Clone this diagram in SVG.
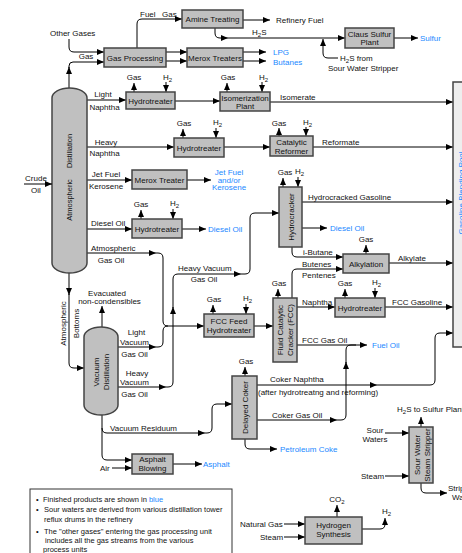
<svg xmlns="http://www.w3.org/2000/svg" width="462" height="553" viewBox="0 0 462 553">
<defs>
<marker id="ah" viewBox="0 0 7 6" refX="7" refY="3" markerWidth="7" markerHeight="6" markerUnits="userSpaceOnUse" orient="auto"><path d="M0,0 L7,3 L0,6 z" fill="#000"/></marker>
<style>
text{font-family:"Liberation Sans",Arial,sans-serif;font-size:8px;fill:#111}
.c{text-anchor:middle}
.b{fill:#2288ff}
.box{fill:#c0c0c0;stroke:#444;stroke-width:1.5}
.col{fill:#c0c0c0;stroke:#444;stroke-width:1.5}
.ln{fill:none;stroke:#000;stroke-width:1;marker-end:url(#ah)}
.l0{fill:none;stroke:#000;stroke-width:1}
.lg{font-size:7.5px}
</style>
</defs>
<rect width="462" height="553" fill="#fff"/>

<g id="connectors">
<path class="ln" d="M69,39 V47 Q69,52 74,52 H104"/>
<path class="ln" d="M69,88 V67"/>
<path class="ln" d="M69,68 V66 Q69,62 73,62 H104"/>
<path class="ln" d="M137,48 V24 Q137,19 142,19 H182"/>
<path class="ln" d="M166,52 H187"/>
<path class="ln" d="M166,61 H187"/>
<path class="ln" d="M243,52 H266"/>
<path class="ln" d="M243,61 H266"/>
<path class="ln" d="M243,20 H270"/>
<path class="ln" d="M215,28 V33 Q215,38 220,38 H228"/>
<path class="ln" d="M228,38 H345"/>
<path class="ln" d="M394,38 H418"/>
<path class="ln" d="M338,58 H328 Q323,58 323,53 V39"/>
<path class="ln" d="M87,100 H126"/>
<path class="ln" d="M175,101 H220"/>
<path class="ln" d="M270,102 H453"/>
<path class="ln" d="M87,147 H174"/>
<path class="ln" d="M224,147 H270"/>
<path class="ln" d="M313,147 H453"/>
<path class="ln" d="M87,180 H132"/>
<path class="ln" d="M187,180 H211"/>
<path class="ln" d="M87,229 H132"/>
<path class="ln" d="M182,229 H206"/>
<path class="ln" d="M87,253 H156"/>
<path class="ln" d="M156,253 H158 Q163,253 163,258 V321 Q163,326 168,326 H204"/>
<path class="ln" d="M118,347 H156"/>
<path class="l0" d="M156,347 H158 Q163,347 163,342 V331 Q163,326 168,326"/>
<path class="ln" d="M118,387 H166"/>
<path class="ln" d="M166,387 H168 Q173,387 173,382 V307"/>
<path class="ln" d="M173,308 V279 Q173,274 178,274 H241"/>
<path class="ln" d="M241,274 H245 Q250,274 250,269 V218 Q250,213 255,213 H279"/>
<path class="ln" d="M254,326 H273"/>
<path class="ln" d="M302,202 H453"/>
<path class="ln" d="M302,228 H327"/>
<path class="ln" d="M292,247 V252 Q292,257 297,257 H343"/>
<path class="ln" d="M292,298 V274 Q292,269 297,269 H343"/>
<path class="ln" d="M389,263 H453"/>
<path class="ln" d="M297,307 H335"/>
<path class="ln" d="M385,307 H453"/>
<path class="ln" d="M297,345 H367"/>
<path class="ln" d="M257,420 H337"/>
<path class="ln" d="M337,420 H341 Q346,420 346,415 V362"/>
<path class="l0" d="M346,363 V350 Q346,345 351,345 H356"/>
<path class="ln" d="M257,385 H377"/>
<path class="ln" d="M377,385 H430 Q435,385 435,380 V338 Q435,333 440,333 H453"/>
<path class="ln" d="M245,439 V444 Q245,449 250,449 H277"/>
<path class="ln" d="M69,273 V295"/>
<path class="ln" d="M69,294 V363 Q69,368 74,368 H84"/>
<path class="ln" d="M102,327 V306"/>
<path class="ln" d="M102,415 V428 Q102,433 107,433 H205"/>
<path class="ln" d="M205,433 H207 Q212,433 212,428 V409 Q212,404 217,404 H232"/>
<path class="ln" d="M102,428 V455 Q102,460 107,460 H132"/>
<path class="ln" d="M112,468 H132"/>
<path class="ln" d="M173,464 H202"/>
<path class="ln" d="M421,427 V417"/>
<path class="ln" d="M385,433 H409"/>
<path class="ln" d="M385,476 H409"/>
<path class="ln" d="M421,483 V488 Q421,493 426,493 H447"/>
<path class="ln" d="M284,524 H305"/>
<path class="ln" d="M284,537 H305"/>
<path class="ln" d="M337,517 V505"/>
<path class="ln" d="M362,529 H380 Q385,529 385,524 V518"/>
<path class="ln" d="M134,92 V83"/><path class="ln" d="M166,82 V92"/>
<path class="ln" d="M227,92 V83"/><path class="ln" d="M262,82 V92"/>
<path class="ln" d="M183,138 V129"/><path class="ln" d="M216,128 V138"/>
<path class="ln" d="M279,136 V128"/><path class="ln" d="M306,127 V136"/>
<path class="ln" d="M141,219 V210"/><path class="ln" d="M173,209 V219"/>
<path class="ln" d="M283,187 V178"/><path class="ln" d="M298,177 V187"/>
<path class="ln" d="M366,254 V245"/>
<path class="ln" d="M213,314 V305"/><path class="ln" d="M246,304 V314"/>
<path class="ln" d="M278,298 V289"/>
<path class="ln" d="M345,298 V289"/><path class="ln" d="M375,288 V298"/>
<path class="ln" d="M245,376 V367"/>
</g>

<g id="labels">
<text x="50" y="36">Other Gases</text>
<text x="86" y="59" class="c">Gas</text>
<text x="140" y="17">Fuel</text><text x="162" y="17">Gas</text>
<text x="276" y="23">Refinery Fuel</text>
<text x="252" y="35">H<tspan font-size="6" dy="2">2</tspan><tspan dy="-2">S</tspan></text>
<text x="420" y="41" class="b">Sulfur</text>
<text x="340" y="61">H<tspan font-size="6" dy="2">2</tspan><tspan dy="-2">S from</tspan></text>
<text x="328" y="71">Sour Water Stripper</text>
<text x="273" y="55" class="b">LPG</text>
<text x="273" y="65" class="b">Butanes</text>
<text x="103" y="97" class="c">Light</text>
<text x="104.5" y="110" class="c">Naphtha</text>
<text x="280" y="100">Isomerate</text>
<text x="106" y="145" class="c">Heavy</text>
<text x="104.5" y="156" class="c">Naphtha</text>
<text x="322" y="145">Reformate</text>
<text x="106" y="177" class="c">Jet Fuel</text>
<text x="106" y="189" class="c">Kerosene</text>
<text x="229" y="175" class="c b">Jet Fuel</text>
<text x="229" y="182.5" class="c b">and/or</text>
<text x="229" y="190" class="c b">Kerosene</text>
<text x="91" y="226">Diesel Oil</text>
<text x="208" y="232" class="b">Diesel Oil</text>
<text x="91" y="251">Atmospheric</text>
<text x="111" y="263" class="c">Gas Oil</text>
<text x="308" y="200">Hydrocracked Gasoline</text>
<text x="330" y="231" class="b">Diesel Oil</text>
<text x="303" y="255">i-Butane</text>
<text x="398" y="261">Alkylate</text>
<text x="302" y="266.5">Butenes</text>
<text x="302" y="277.5">Pentenes</text>
<text x="178" y="271">Heavy Vacuum</text>
<text x="204" y="282" class="c">Gas Oil</text>
<text x="107" y="296" class="c">Evacuated</text>
<text x="109.5" y="303.5" class="c">non-condensibles</text>
<text transform="translate(66,323.5) rotate(-90)" class="c">Atmospheric</text>
<text transform="translate(79,323.5) rotate(-90)" class="c">Bottoms</text>
<text x="302" y="305">Naphtha</text>
<text x="392" y="305">FCC Gasoline</text>
<text x="302" y="343">FCC Gas Oil</text>
<text x="372" y="348" class="b">Fuel Oil</text>
<text x="136.5" y="335" class="c">Light</text>
<text x="134.5" y="344.5" class="c">Vacuum</text>
<text x="134.5" y="356.5" class="c">Gas Oil</text>
<text x="137" y="375.5" class="c">Heavy</text>
<text x="134.5" y="384.5" class="c">Vacuum</text>
<text x="134.5" y="396.5" class="c">Gas Oil</text>
<text x="270" y="382">Coker Naphtha</text>
<text x="258" y="395">(after hydrotreatng and reforming)</text>
<text x="272" y="418">Coker Gas Oil</text>
<text x="280" y="452" class="b">Petroleum Coke</text>
<text x="110" y="431">Vacuum Residuum</text>
<text x="100" y="471">Air</text>
<text x="203" y="467" class="b">Asphalt</text>
<text x="397" y="412">H<tspan font-size="6" dy="2">2</tspan><tspan dy="-2">S to Sulfur Plant</tspan></text>
<text x="375" y="433" class="c">Sour</text>
<text x="375" y="442" class="c">Waters</text>
<text x="361" y="479">Steam</text>
<text x="448" y="491">Stripped</text>
<text x="452" y="500">Water</text>
<text x="337" y="502" class="c">CO<tspan font-size="6" dy="2">2</tspan></text>
<text x="382" y="514">H<tspan font-size="6" dy="2">2</tspan></text>
<text x="240" y="527">Natural Gas</text>
<text x="260" y="540">Steam</text>
<text x="134" y="80" class="c">Gas</text><text x="163" y="80">H<tspan font-size="6" dy="2">2</tspan></text>
<text x="228" y="80" class="c">Gas</text><text x="259" y="80">H<tspan font-size="6" dy="2">2</tspan></text>
<text x="184" y="126" class="c">Gas</text><text x="213" y="125">H<tspan font-size="6" dy="2">2</tspan></text>
<text x="279" y="126" class="c">Gas</text><text x="303" y="125">H<tspan font-size="6" dy="2">2</tspan></text>
<text x="141" y="207" class="c">Gas</text><text x="170" y="206">H<tspan font-size="6" dy="2">2</tspan></text>
<text x="285" y="175" class="c">Gas</text><text x="295" y="174">H<tspan font-size="6" dy="2">2</tspan></text>
<text x="366" y="242" class="c">Gas</text>
<text x="214" y="302" class="c">Gas</text><text x="243" y="301">H<tspan font-size="6" dy="2">2</tspan></text>
<text x="279" y="286" class="c">Gas</text>
<text x="345" y="286" class="c">Gas</text><text x="372" y="285">H<tspan font-size="6" dy="2">2</tspan></text>
<text x="246" y="364" class="c">Gas</text>
</g>

<g id="atmospheric-distillation">
<path class="col" d="M52,98 A17.5,10 0 0 1 87,98 V263 A17.5,10 0 0 1 52,263 Z"/>
<text transform="translate(72,151) rotate(-90)" class="c" style="font-size:7.5px">Distillation</text>
<text transform="translate(72,200) rotate(-90)" class="c" style="font-size:7.5px">Atmospheric</text>
</g>
<g id="crude-oil">
<text x="36" y="181" class="c">Crude</text>
<text x="36" y="193" class="c">Oil</text>
<path class="ln" d="M24,184 H52"/>
</g>
<g id="vacuum-distillation">
<path class="col" d="M84,337 A17,10 0 0 1 118,337 V405 A17,10 0 0 1 84,405 Z"/>
<text transform="translate(99,372) rotate(-90)" class="c">Vacuum</text>
<text transform="translate(109,372) rotate(-90)" class="c">Distillation</text>
</g>
<g id="gas-processing"><rect class="box" x="104" y="48" width="62" height="19"/><text x="135" y="60.5" class="c">Gas Processing</text></g>
<g id="amine-treating"><rect class="box" x="182" y="10" width="61" height="18"/><text x="212.5" y="22" class="c">Amine Treating</text></g>
<g id="merox-treaters"><rect class="box" x="187" y="48" width="56" height="19"/><text x="215" y="60.5" class="c">Merox Treaters</text></g>
<g id="claus-sulfur-plant"><rect class="box" x="345" y="28" width="49" height="20"/><text x="369.5" y="37" class="c">Claus Sulfur</text><text x="369.5" y="45" class="c">Plant</text></g>
<g id="hydrotreater-1"><rect class="box" x="126" y="92" width="49" height="17"/><text x="150.5" y="103.5" class="c">Hydrotreater</text></g>
<g id="isomerization-plant"><rect class="box" x="220" y="92" width="50" height="19"/><text x="245" y="100.5" class="c">Isomerization</text><text x="245" y="109" class="c">Plant</text></g>
<g id="hydrotreater-2"><rect class="box" x="174" y="138" width="50" height="19"/><text x="199" y="150.5" class="c">Hydrotreater</text></g>
<g id="catalytic-reformer"><rect class="box" x="270" y="136" width="43" height="20"/><text x="291.5" y="145" class="c">Catalytic</text><text x="291.5" y="154" class="c">Reformer</text></g>
<g id="merox-treater"><rect class="box" x="132" y="170" width="55" height="19"/><text x="159.5" y="182.5" class="c">Merox Treater</text></g>
<g id="hydrotreater-3"><rect class="box" x="132" y="219" width="50" height="19"/><text x="157" y="231.5" class="c">Hydrotreater</text></g>
<g id="hydrocracker"><rect class="box" x="279" y="187" width="23" height="60"/><text transform="translate(293.5,217) rotate(-90)" class="c">Hydrocracker</text></g>
<g id="alkylation"><rect class="box" x="343" y="254" width="46" height="19"/><text x="366" y="266.5" class="c">Alkylation</text></g>
<g id="fcc-feed-hydrotreater"><rect class="box" x="204" y="314" width="50" height="23"/><text x="229" y="324" class="c">FCC Feed</text><text x="229" y="332.5" class="c">Hydrotreater</text></g>
<g id="fcc"><rect class="box" x="273" y="298" width="24" height="64"/><text transform="translate(283,330) rotate(-90)" class="c">Fluid Catalytic</text><text transform="translate(293,330) rotate(-90)" class="c">Cracker (FCC)</text></g>
<g id="hydrotreater-4"><rect class="box" x="335" y="298" width="50" height="19"/><text x="360" y="310.5" class="c">Hydrotreater</text></g>
<g id="delayed-coker"><rect class="box" x="232" y="376" width="25" height="63"/><text transform="translate(247.5,407.5) rotate(-90)" class="c">Delayed Coker</text></g>
<g id="asphalt-blowing"><rect class="box" x="132" y="454" width="41" height="20"/><text x="152.5" y="462" class="c">Asphalt</text><text x="152.5" y="470.5" class="c">Blowing</text></g>
<g id="sour-water-steam-stripper"><rect class="box" x="409" y="427" width="24" height="56"/><text transform="translate(420,455) rotate(-90)" class="c">Sour Water</text><text transform="translate(430,455) rotate(-90)" class="c">Steam Stripper</text></g>
<g id="hydrogen-synthesis"><rect class="box" x="305" y="517" width="57" height="27"/><text x="333.5" y="528" class="c">Hydrogen</text><text x="333.5" y="537" class="c">Synthesis</text></g>
<g id="gasoline-blending-pool"><rect x="453" y="82" width="20" height="265" fill="#eeeeee" stroke="#444" stroke-width="1.5"/><text transform="translate(464,193) rotate(-90)" class="c b">Gasoline Blending Pool</text></g>
<g id="legend">
<rect x="30" y="489" width="202" height="70" fill="#fff" stroke="#333" stroke-width="1"/>
<text x="36" y="502" class="lg">•</text><text x="43" y="502" class="lg">Finished products are shown in <tspan class="b">blue</tspan></text>
<text x="36" y="512" class="lg">•</text><text x="44" y="512" class="lg">Sour waters are derived from various distillation tower</text>
<text x="44" y="522" class="lg">reflux drums in the refinery</text>
<text x="36" y="533.5" class="lg">•</text><text x="44" y="533.5" class="lg">The "other gases" entering the gas processing unit</text>
<text x="45" y="543" class="lg">includes all the gas streams from the various</text>
<text x="43" y="552" class="lg">process units</text>
</g>
</svg>
